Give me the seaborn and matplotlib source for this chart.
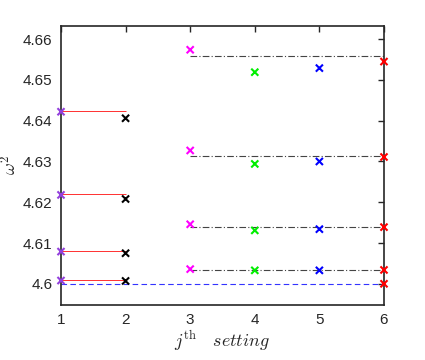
import numpy as np
import pandas as pd
import matplotlib
matplotlib.use('Agg')
import matplotlib.pyplot as plt
import seaborn as sns

# values
settings = [1, 2, 3, 4, 5, 6]
omega_1 = [4.6422, 4.6218, 4.6079, 4.6008]
omega_2 = [4.6406, 4.6208, 4.6075, 4.6007]
omega_3 = [4.6574, 4.6327, 4.6146, 4.6036]
omega_4 = [4.6519, 4.6294, 4.6131, 4.6033]
omega_5 = [4.6529, 4.6300, 4.6134, 4.6033]
omega_6 = [4.6545, 4.6311, 4.6139, 4.6034, 4.6000]
ref_12 = [4.6425, 4.6220, 4.6080, 4.6010]   # red lines, j=1..2
ref_36 = [4.6559, 4.6314, 4.6140, 4.6034]   # dash-dot lines, j=3..6
baseline = 4.6
colors = {1: '#9340dd', 2: 'black', 3: '#ff00ff', 4: '#00ee00', 5: '#0000ff', 6: '#ff0000'}

all_vals = [omega_1, omega_2, omega_3, omega_4, omega_5, omega_6]
df = pd.DataFrame({
    'setting': [s for s, v in zip(settings, all_vals) for _ in v],
    'omega': [w for v in all_vals for w in v],
})

sns.set_style('white')
plt.rcParams['font.family'] = ['Liberation Sans', 'DejaVu Sans']
plt.rcParams['mathtext.fontset'] = 'cm'

fig = plt.figure(figsize=(4.25, 3.6), dpi=100)
ax = fig.add_axes([0.1435, 0.1528, 0.76, 0.7758])

ax.hlines(ref_12, settings[0], settings[1], color='#ff3030', lw=0.7, zorder=1)
ax.hlines(ref_36, settings[2], settings[5], color='#444444', lw=0.8,
          linestyles=(0, (6, 2, 1, 2)), zorder=1)
ax.hlines(baseline, settings[0], settings[5], color='#3333ff', lw=0.8,
          linestyles=(0, (5, 3)), zorder=1)

sns.scatterplot(data=df, x='setting', y='omega', hue='setting', palette=colors,
                marker='x', s=26, linewidth=1.5, legend=False, ax=ax,
                clip_on=False, zorder=3)

ax.set_xlim(1, 6)
ax.set_ylim(4.5948, 4.6633)
ax.set_xticks(settings)
ax.set_yticks([4.6, 4.61, 4.62, 4.63, 4.64, 4.65, 4.66])
ax.set_yticklabels(['4.6', '4.61', '4.62', '4.63', '4.64', '4.65', '4.66'])
ax.tick_params(direction='in', length=4, width=1, top=True, right=True,
               labelsize=11, colors='#262626', pad=6)
for sp in ax.spines.values():
    sp.set_color('#262626')
    sp.set_linewidth(1.2)
ax.set_xlabel(r'$j^{\mathrm{th}}\quad setting$', fontsize=13, labelpad=1)
ax.set_ylabel(r'$\omega^2$', fontsize=13, labelpad=2)

fig.savefig('out.png', dpi=100)
